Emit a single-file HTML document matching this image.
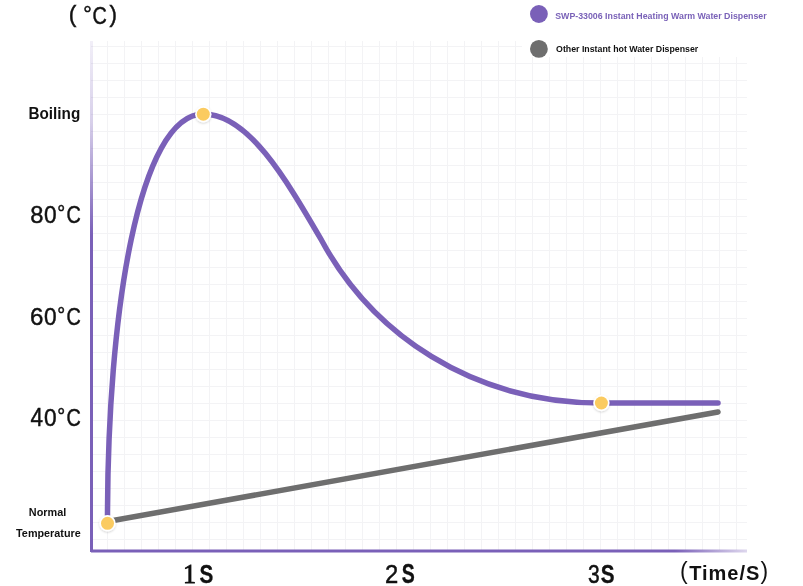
<!DOCTYPE html>
<html><head><meta charset="utf-8"><style>
html,body{margin:0;padding:0;background:#fff;}
body{width:803px;height:586px;position:relative;overflow:hidden;font-family:"Liberation Sans",sans-serif;color:#111;}
.t{position:absolute;white-space:nowrap;line-height:1;will-change:transform;}
svg{position:absolute;left:0;top:0;}
.tx{will-change:transform;}
</style></head><body>
<svg class="chart" width="803" height="586" viewBox="0 0 803 586">
<defs>
<linearGradient id="gy" x1="0" y1="41" x2="0" y2="552" gradientUnits="userSpaceOnUse">
<stop offset="0" stop-color="#7a60b8" stop-opacity="0.1"/>
<stop offset="0.16" stop-color="#7a60b8" stop-opacity="0.3"/>
<stop offset="0.38" stop-color="#7a60b8" stop-opacity="1"/>
<stop offset="1" stop-color="#7a60b8"/>
</linearGradient>
<linearGradient id="gx" x1="91" y1="0" x2="747" y2="0" gradientUnits="userSpaceOnUse">
<stop offset="0" stop-color="#7a60b8"/>
<stop offset="0.89" stop-color="#7a60b8"/>
<stop offset="1" stop-color="#7a60b8" stop-opacity="0.25"/>
</linearGradient>
<filter id="sh" x="-50%" y="-50%" width="200%" height="200%"><feDropShadow dx="0" dy="1" stdDeviation="1.2" flood-color="#000" flood-opacity="0.18"/></filter>
</defs>
<g stroke="#f3f3f5" stroke-width="1"><line x1="107.5" y1="41" x2="107.5" y2="550"/>
<line x1="124.5" y1="41" x2="124.5" y2="550"/>
<line x1="141.5" y1="41" x2="141.5" y2="550"/>
<line x1="158.5" y1="41" x2="158.5" y2="550"/>
<line x1="175.5" y1="41" x2="175.5" y2="550"/>
<line x1="192.5" y1="41" x2="192.5" y2="550"/>
<line x1="209.5" y1="41" x2="209.5" y2="550"/>
<line x1="226.5" y1="41" x2="226.5" y2="550"/>
<line x1="243.5" y1="41" x2="243.5" y2="550"/>
<line x1="260.5" y1="41" x2="260.5" y2="550"/>
<line x1="277.5" y1="41" x2="277.5" y2="550"/>
<line x1="294.5" y1="41" x2="294.5" y2="550"/>
<line x1="311.5" y1="41" x2="311.5" y2="550"/>
<line x1="328.5" y1="41" x2="328.5" y2="550"/>
<line x1="345.5" y1="41" x2="345.5" y2="550"/>
<line x1="362.5" y1="41" x2="362.5" y2="550"/>
<line x1="379.5" y1="41" x2="379.5" y2="550"/>
<line x1="396.5" y1="41" x2="396.5" y2="550"/>
<line x1="413.5" y1="41" x2="413.5" y2="550"/>
<line x1="430.5" y1="41" x2="430.5" y2="550"/>
<line x1="447.5" y1="41" x2="447.5" y2="550"/>
<line x1="464.5" y1="41" x2="464.5" y2="550"/>
<line x1="481.5" y1="41" x2="481.5" y2="550"/>
<line x1="498.5" y1="41" x2="498.5" y2="550"/>
<line x1="515.5" y1="41" x2="515.5" y2="550"/>
<line x1="532.5" y1="41" x2="532.5" y2="550"/>
<line x1="549.5" y1="41" x2="549.5" y2="550"/>
<line x1="566.5" y1="41" x2="566.5" y2="550"/>
<line x1="583.5" y1="41" x2="583.5" y2="550"/>
<line x1="600.5" y1="41" x2="600.5" y2="550"/>
<line x1="617.5" y1="41" x2="617.5" y2="550"/>
<line x1="634.5" y1="41" x2="634.5" y2="550"/>
<line x1="651.5" y1="41" x2="651.5" y2="550"/>
<line x1="668.5" y1="41" x2="668.5" y2="550"/>
<line x1="685.5" y1="41" x2="685.5" y2="550"/>
<line x1="702.5" y1="41" x2="702.5" y2="550"/>
<line x1="719.5" y1="41" x2="719.5" y2="550"/>
<line x1="736.5" y1="41" x2="736.5" y2="550"/>
<line x1="91" y1="46.5" x2="747" y2="46.5"/>
<line x1="91" y1="63.5" x2="747" y2="63.5"/>
<line x1="91" y1="80.5" x2="747" y2="80.5"/>
<line x1="91" y1="97.5" x2="747" y2="97.5"/>
<line x1="91" y1="114.5" x2="747" y2="114.5"/>
<line x1="91" y1="131.5" x2="747" y2="131.5"/>
<line x1="91" y1="148.5" x2="747" y2="148.5"/>
<line x1="91" y1="165.5" x2="747" y2="165.5"/>
<line x1="91" y1="182.5" x2="747" y2="182.5"/>
<line x1="91" y1="199.5" x2="747" y2="199.5"/>
<line x1="91" y1="216.5" x2="747" y2="216.5"/>
<line x1="91" y1="233.5" x2="747" y2="233.5"/>
<line x1="91" y1="250.5" x2="747" y2="250.5"/>
<line x1="91" y1="267.5" x2="747" y2="267.5"/>
<line x1="91" y1="284.5" x2="747" y2="284.5"/>
<line x1="91" y1="301.5" x2="747" y2="301.5"/>
<line x1="91" y1="318.5" x2="747" y2="318.5"/>
<line x1="91" y1="335.5" x2="747" y2="335.5"/>
<line x1="91" y1="352.5" x2="747" y2="352.5"/>
<line x1="91" y1="369.5" x2="747" y2="369.5"/>
<line x1="91" y1="386.5" x2="747" y2="386.5"/>
<line x1="91" y1="403.5" x2="747" y2="403.5"/>
<line x1="91" y1="420.5" x2="747" y2="420.5"/>
<line x1="91" y1="437.5" x2="747" y2="437.5"/>
<line x1="91" y1="454.5" x2="747" y2="454.5"/>
<line x1="91" y1="471.5" x2="747" y2="471.5"/>
<line x1="91" y1="488.5" x2="747" y2="488.5"/>
<line x1="91" y1="505.5" x2="747" y2="505.5"/>
<line x1="91" y1="522.5" x2="747" y2="522.5"/>
<line x1="91" y1="539.5" x2="747" y2="539.5"/></g>
<rect x="522" y="0" width="281" height="57" fill="#fff"/>
<rect x="90" y="41" width="3" height="511" fill="url(#gy)"/>
<rect x="91" y="549.5" width="656" height="3" fill="url(#gx)"/>
<line x1="107.5" y1="521.5" x2="718" y2="412" stroke="#6e6e6e" stroke-width="5.5" stroke-linecap="round"/>
<path d="M107.5,523.0 C107.1,312.6 139.0,114.0 203.5,114.0 C248.0,114.0 285.1,177.7 321.4,240.0 C371.8,333.2 470.9,403.0 601.4,403.0 L718,403" fill="none" stroke="#7a60b8" stroke-width="5.5" stroke-linecap="round"/>
<g filter="url(#sh)">
<circle cx="107.5" cy="523.3" r="8.2" fill="#fff"/>
<circle cx="203.3" cy="114.2" r="8.2" fill="#fff"/>
<circle cx="601.4" cy="403" r="8.2" fill="#fff"/>
</g>
<circle cx="107.5" cy="523.3" r="6.5" fill="#fbcb60"/>
<circle cx="203.3" cy="114.2" r="6.5" fill="#fbcb60"/>
<circle cx="601.4" cy="403" r="6.5" fill="#fbcb60"/>
<circle cx="538.9" cy="14" r="8.9" fill="#7a60b8"/>
<circle cx="538.9" cy="48.9" r="8.9" fill="#6e6e6e"/>
</svg>
<svg class="tx" width="803" height="586" viewBox="0 0 803 586"><text transform="matrix(0.22818,0,0,0.24097,68.71,21.69)" font-family='"Liberation Sans"' font-weight="normal" font-size="100" fill="#111" stroke="#111" stroke-width="1.92">(</text><text transform="matrix(0.21229,0,0,0.19582,83.36,20.90)" font-family='"Liberation Sans"' font-weight="normal" font-size="100" fill="#111" stroke="#111" stroke-width="2.21">°</text><text transform="matrix(0.19817,0,0,0.23940,92.52,23.94)" font-family='"Liberation Sans"' font-weight="normal" font-size="100" fill="#111" stroke="#111" stroke-width="2.06">C</text><text transform="matrix(0.22441,0,0,0.24097,109.39,21.69)" font-family='"Liberation Sans"' font-weight="normal" font-size="100" fill="#111" stroke="#111" stroke-width="1.93">)</text><text transform="matrix(0.15302,0,0,0.16570,28.48,118.90)" font-family='"Liberation Sans"' font-weight="bold" font-size="100" fill="#111">Boiling</text><text transform="matrix(0.23762,0,0,0.24788,30.19,223.03)" font-family='"Liberation Sans"' font-weight="normal" font-size="100" fill="#111" stroke="#111" stroke-width="1.85">8</text><text transform="matrix(0.22697,0,0,0.24788,43.94,223.03)" font-family='"Liberation Sans"' font-weight="normal" font-size="100" fill="#111" stroke="#111" stroke-width="1.90">0</text><text transform="matrix(0.19802,0,0,0.19941,57.35,219.65)" font-family='"Liberation Sans"' font-weight="normal" font-size="100" fill="#111" stroke="#111" stroke-width="2.26">°</text><text transform="matrix(0.19817,0,0,0.24788,66.52,223.03)" font-family='"Liberation Sans"' font-weight="normal" font-size="100" fill="#111" stroke="#111" stroke-width="2.02">C</text><text transform="matrix(0.24164,0,0,0.24788,30.00,324.93)" font-family='"Liberation Sans"' font-weight="normal" font-size="100" fill="#111" stroke="#111" stroke-width="1.84">6</text><text transform="matrix(0.22697,0,0,0.24788,43.94,324.93)" font-family='"Liberation Sans"' font-weight="normal" font-size="100" fill="#111" stroke="#111" stroke-width="1.90">0</text><text transform="matrix(0.19802,0,0,0.19941,57.35,321.55)" font-family='"Liberation Sans"' font-weight="normal" font-size="100" fill="#111" stroke="#111" stroke-width="2.26">°</text><text transform="matrix(0.19817,0,0,0.24788,66.52,324.93)" font-family='"Liberation Sans"' font-weight="normal" font-size="100" fill="#111" stroke="#111" stroke-width="2.02">C</text><text transform="matrix(0.22524,0,0,0.25509,30.51,426.17)" font-family='"Liberation Sans"' font-weight="normal" font-size="100" fill="#111" stroke="#111" stroke-width="1.87">4</text><text transform="matrix(0.22697,0,0,0.24788,43.94,425.93)" font-family='"Liberation Sans"' font-weight="normal" font-size="100" fill="#111" stroke="#111" stroke-width="1.90">0</text><text transform="matrix(0.19802,0,0,0.19941,57.35,422.55)" font-family='"Liberation Sans"' font-weight="normal" font-size="100" fill="#111" stroke="#111" stroke-width="2.26">°</text><text transform="matrix(0.19817,0,0,0.24788,66.52,425.93)" font-family='"Liberation Sans"' font-weight="normal" font-size="100" fill="#111" stroke="#111" stroke-width="2.02">C</text><text transform="matrix(0.10854,0,0,0.10901,28.87,516.00)" font-family='"Liberation Sans"' font-weight="bold" font-size="100" fill="#111">Normal</text><text transform="matrix(0.10811,0,0,0.11337,16.08,537.00)" font-family='"Liberation Sans"' font-weight="bold" font-size="100" fill="#111">Temperature</text><text transform="matrix(0.26133,0,0,0.26660,183.10,583.20)" font-family='"Liberation Serif"' font-weight="normal" font-size="100" fill="#111" stroke="#111" stroke-width="3.03">1</text><text transform="matrix(0.20697,0,0,0.26271,199.45,583.19)" font-family='"Liberation Sans"' font-weight="bold" font-size="100" fill="#111" stroke="#111" stroke-width="1.28">S</text><text transform="matrix(0.23817,0,0,0.25564,385.03,583.17)" font-family='"Liberation Sans"' font-weight="normal" font-size="100" fill="#111" stroke="#111" stroke-width="1.82">2</text><text transform="matrix(0.19529,0,0,0.27118,401.69,583.39)" font-family='"Liberation Sans"' font-weight="bold" font-size="100" fill="#111" stroke="#111" stroke-width="1.29">S</text><text transform="matrix(0.20986,0,0,0.24929,587.93,583.13)" font-family='"Liberation Sans"' font-weight="normal" font-size="100" fill="#111" stroke="#111" stroke-width="1.96">3</text><text transform="matrix(0.20697,0,0,0.26553,600.75,583.39)" font-family='"Liberation Sans"' font-weight="bold" font-size="100" fill="#111" stroke="#111" stroke-width="1.27">S</text><text transform="matrix(0.08810,0,0,0.09375,555.25,18.85)" font-family='"Liberation Sans"' font-weight="bold" font-size="100" fill="#7a62b8">SWP-33006 Instant Heating Warm Water Dispenser</text><text transform="matrix(0.08801,0,0,0.09884,556.04,52.05)" font-family='"Liberation Sans"' font-weight="bold" font-size="100" fill="#111">Other Instant hot Water Dispenser</text></svg>
<div class="t" style="left:680px;top:560px;font-size:23px;">(<b style="font-size:20px;letter-spacing:1px;margin-left:1.5px;vertical-align:-1px">Time/S</b>)</div>
</body></html>
